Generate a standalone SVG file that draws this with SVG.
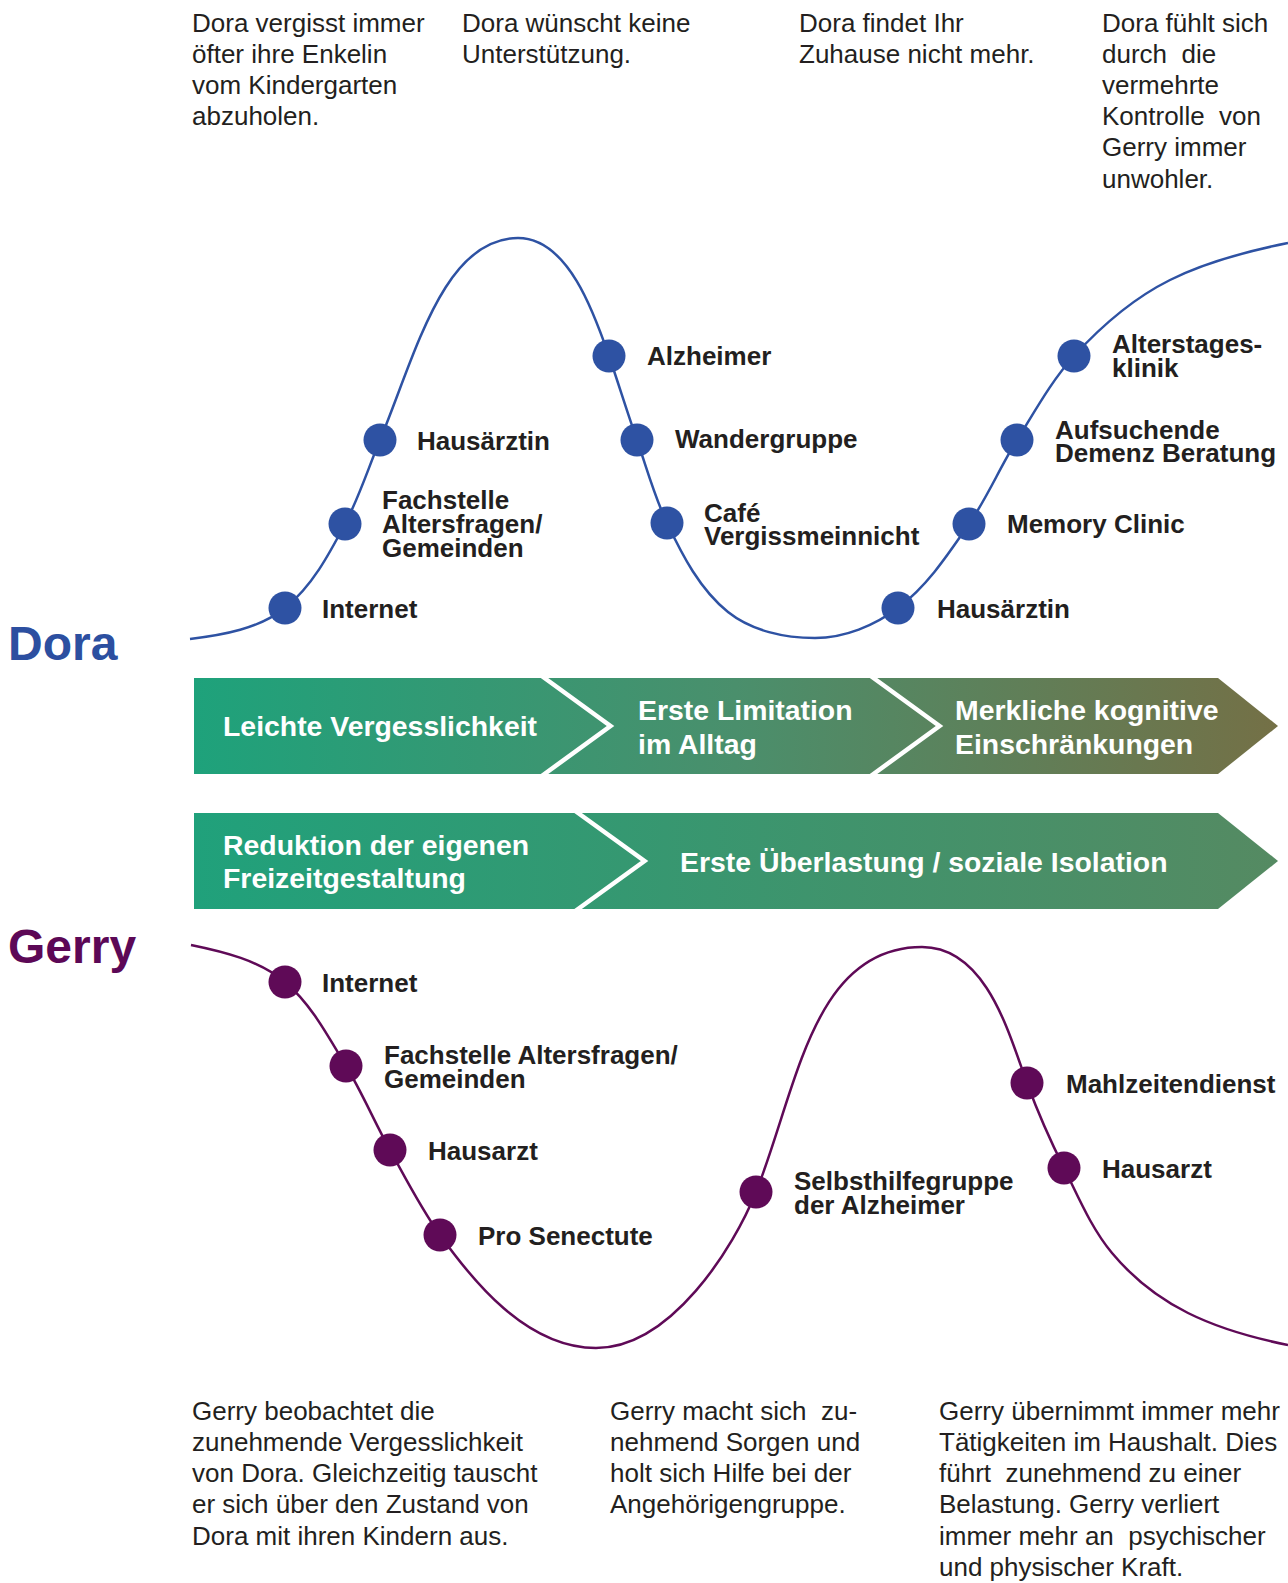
<svg xmlns="http://www.w3.org/2000/svg" width="1288" height="1583" viewBox="0 0 1288 1583">
  <style>
    text { font-family: "Liberation Sans", Arial, Helvetica, sans-serif; }
    .desc { font-size: 26px; fill: #231f20; }
    .lbl { font-size: 26px; font-weight: bold; fill: #231f20; }
    .phase { font-size: 28.4px; font-weight: bold; fill: #ffffff; }
    .name { font-size: 48px; font-weight: bold; }
    .dora-dot { fill: #2e52a3; }
    .gerry-dot { fill: #5f0a57; }
    .curve { fill: none; stroke-width: 2.5; }
    .sep { fill: none; stroke: #ffffff; stroke-width: 4.5; stroke-linejoin: miter; stroke-miterlimit: 10; }
  </style>
  <defs>
    <linearGradient id="gradDora" x1="194" y1="0" x2="1278" y2="0" gradientUnits="userSpaceOnUse">
      <stop offset="0" stop-color="#1ea27b"/>
      <stop offset="0.5" stop-color="#4a8f6c"/>
      <stop offset="1" stop-color="#747046"/>
    </linearGradient>
    <linearGradient id="gradGerry" x1="194" y1="0" x2="1278" y2="0" gradientUnits="userSpaceOnUse">
      <stop offset="0" stop-color="#20a17b"/>
      <stop offset="1" stop-color="#558a62"/>
    </linearGradient>
  </defs>

  <rect width="1288" height="1583" fill="#ffffff"/>

  <!-- situation notes, Dora -->
  <g id="notes-dora" class="desc">
    <text x="192" y="31.5"><tspan x="192">Dora vergisst immer</tspan><tspan x="192" dy="31.2">öfter ihre Enkelin</tspan><tspan x="192" dy="31.2">vom Kindergarten</tspan><tspan x="192" dy="31.2">abzuholen.</tspan></text>
    <text x="462" y="31.5"><tspan x="462">Dora wünscht keine</tspan><tspan x="462" dy="31.2">Unterstützung.</tspan></text>
    <text x="799" y="31.5"><tspan x="799">Dora findet Ihr</tspan><tspan x="799" dy="31.2">Zuhause nicht mehr.</tspan></text>
    <text x="1102" y="31.5" xml:space="preserve"><tspan x="1102">Dora fühlt sich</tspan><tspan x="1102" dy="31.2">durch  die</tspan><tspan x="1102" dy="31.2">vermehrte</tspan><tspan x="1102" dy="31.2">Kontrolle  von</tspan><tspan x="1102" dy="31.2">Gerry immer</tspan><tspan x="1102" dy="31.2">unwohler.</tspan></text>
  </g>

  <!-- person names -->
  <text id="name-dora" class="name" x="8" y="660" fill="#2c4fa0">Dora</text>
  <text id="name-gerry" class="name" x="8" y="963" fill="#5c0856">Gerry</text>

  <!-- journey curves -->
  <g id="connectors">
    <path id="curve-dora" class="curve" stroke="#2e52a3" d="M190,639 C223,635 259.1,628.8 285,608 C311.9,586.5 329,554.4 345,524 C359.1,497.2 368.3,468 380,440 C414.7,356.9 443,238 518,238 C568,238 594.3,313.5 609,356 C618.6,383.9 627.2,412.2 637,440 C646.7,467.8 654.4,496.5 667,523 C682.5,555.5 699.9,589.5 728,612 C751.7,630.9 784.7,638 815,638 C844.4,638 874.5,625.6 898,608 C927.4,586 948.2,554.2 969,524 C987.3,497.5 999.9,467.3 1017,440 C1034.9,411.3 1051.3,381 1074,356 C1101.5,325.8 1133.5,298.2 1170,280 C1206.8,261.6 1247.6,251.1 1288,243"/>
    <path id="curve-gerry" class="curve" stroke="#5f0a57" d="M191,945 C223.7,951.7 259.5,960.4 285,982 C311.4,1004.4 328.1,1036.4 346,1066 C362.4,1093 374.6,1122.4 390,1150 C406,1178.8 420.9,1208.2 440,1235 C472,1279.8 526,1348 596,1348 C671,1348 733.7,1247.7 756,1192 C796.8,1089.9 812,947 922,947 C987,947 1009.6,1036.1 1027,1083 C1037.7,1112 1050.2,1140.4 1064,1168 C1078.5,1197.1 1091.2,1228 1112,1253 C1132.7,1277.8 1159.1,1298.6 1188,1313 C1219.3,1328.6 1253.7,1338.1 1288,1345"/>
  </g>

  <!-- Dora touchpoints -->
  <g id="dora-internet"><circle class="dora-dot" cx="285" cy="608" r="16.5"/><text class="lbl" x="322" y="618">Internet</text></g>
  <g id="dora-fachstelle"><circle class="dora-dot" cx="345" cy="524" r="16.5"/><text class="lbl" x="382" y="509"><tspan x="382">Fachstelle</tspan><tspan x="382" dy="24">Altersfragen/</tspan><tspan x="382" dy="24">Gemeinden</tspan></text></g>
  <g id="dora-hausaerztin"><circle class="dora-dot" cx="380" cy="440" r="16.5"/><text class="lbl" x="417" y="450">Hausärztin</text></g>
  <g id="dora-alzheimer"><circle class="dora-dot" cx="609" cy="356" r="16.5"/><text class="lbl" x="647" y="365">Alzheimer</text></g>
  <g id="dora-wandergruppe"><circle class="dora-dot" cx="637" cy="440" r="16.5"/><text class="lbl" x="675" y="448">Wandergruppe</text></g>
  <g id="dora-cafe"><circle class="dora-dot" cx="667" cy="523" r="16.5"/><text class="lbl" x="704" y="521.5"><tspan x="704">Café</tspan><tspan x="704" dy="23.5">Vergissmeinnicht</tspan></text></g>
  <g id="dora-hausaerztin-2"><circle class="dora-dot" cx="898" cy="608" r="16.5"/><text class="lbl" x="937" y="618">Hausärztin</text></g>
  <g id="dora-memory-clinic"><circle class="dora-dot" cx="969" cy="524" r="16.5"/><text class="lbl" x="1007" y="533">Memory Clinic</text></g>
  <g id="dora-aufsuchende"><circle class="dora-dot" cx="1017" cy="440" r="16.5"/><text class="lbl" x="1055" y="438.5"><tspan x="1055">Aufsuchende</tspan><tspan x="1055" dy="23.2">Demenz Beratung</tspan></text></g>
  <g id="dora-alterstagesklinik"><circle class="dora-dot" cx="1074" cy="356" r="16.5"/><text class="lbl" x="1112" y="353"><tspan x="1112">Alterstages-</tspan><tspan x="1112" dy="23.5">klinik</tspan></text></g>

  <!-- phase band, Dora -->
  <g id="phases-dora">
    <polygon fill="url(#gradDora)" points="194,678 1218,678 1278,726 1218,774 194,774"/>
    <polyline class="sep" points="533.5,670 610.5,726 533.5,782"/>
    <polyline class="sep" points="862.5,670 939.5,726 862.5,782"/>
    <text class="phase" x="223" y="736">Leichte Vergesslichkeit</text>
    <text class="phase" x="638" y="720"><tspan x="638">Erste Limitation</tspan><tspan x="638" dy="34">im Alltag</tspan></text>
    <text class="phase" x="955" y="720"><tspan x="955">Merkliche kognitive</tspan><tspan x="955" dy="34">Einschränkungen</tspan></text>
  </g>

  <!-- phase band, Gerry -->
  <g id="phases-gerry">
    <polygon fill="url(#gradGerry)" points="194,813 1218,813 1278,861 1218,909 194,909"/>
    <polyline class="sep" points="567,805 644.5,861 567,917"/>
    <text class="phase" x="223" y="855"><tspan x="223">Reduktion der eigenen</tspan><tspan x="223" dy="33.3">Freizeitgestaltung</tspan></text>
    <text class="phase" x="680" y="871.7">Erste Überlastung / soziale Isolation</text>
  </g>

  <!-- Gerry touchpoints -->
  <g id="gerry-internet"><circle class="gerry-dot" cx="285" cy="982" r="16.5"/><text class="lbl" x="322" y="992">Internet</text></g>
  <g id="gerry-fachstelle"><circle class="gerry-dot" cx="346" cy="1066" r="16.5"/><text class="lbl" x="384" y="1064"><tspan x="384">Fachstelle Altersfragen/</tspan><tspan x="384" dy="23.5">Gemeinden</tspan></text></g>
  <g id="gerry-hausarzt"><circle class="gerry-dot" cx="390" cy="1150" r="16.5"/><text class="lbl" x="428" y="1160">Hausarzt</text></g>
  <g id="gerry-pro-senectute"><circle class="gerry-dot" cx="440" cy="1235" r="16.5"/><text class="lbl" x="478" y="1245">Pro Senectute</text></g>
  <g id="gerry-selbsthilfegruppe"><circle class="gerry-dot" cx="756" cy="1192" r="16.5"/><text class="lbl" x="794" y="1190"><tspan x="794">Selbsthilfegruppe</tspan><tspan x="794" dy="23.5">der Alzheimer</tspan></text></g>
  <g id="gerry-mahlzeitendienst"><circle class="gerry-dot" cx="1027" cy="1083" r="16.5"/><text class="lbl" x="1066" y="1093">Mahlzeitendienst</text></g>
  <g id="gerry-hausarzt-2"><circle class="gerry-dot" cx="1064" cy="1168" r="16.5"/><text class="lbl" x="1102" y="1177.5">Hausarzt</text></g>

  <!-- situation notes, Gerry -->
  <g id="notes-gerry" class="desc">
    <text x="192" y="1419.5"><tspan x="192">Gerry beobachtet die</tspan><tspan x="192" dy="31.3">zunehmende Vergesslichkeit</tspan><tspan x="192" dy="31.3">von Dora. Gleichzeitig tauscht</tspan><tspan x="192" dy="31.3">er sich über den Zustand von</tspan><tspan x="192" dy="31.3">Dora mit ihren Kindern aus.</tspan></text>
    <text x="610" y="1419.5" xml:space="preserve"><tspan x="610">Gerry macht sich  zu-</tspan><tspan x="610" dy="31.3">nehmend Sorgen und</tspan><tspan x="610" dy="31.3">holt sich Hilfe bei der</tspan><tspan x="610" dy="31.3">Angehörigengruppe.</tspan></text>
    <text x="939" y="1419.5" xml:space="preserve"><tspan x="939">Gerry übernimmt immer mehr</tspan><tspan x="939" dy="31.3">Tätigkeiten im Haushalt. Dies</tspan><tspan x="939" dy="31.3">führt  zunehmend zu einer</tspan><tspan x="939" dy="31.3">Belastung. Gerry verliert</tspan><tspan x="939" dy="31.3">immer mehr an  psychischer</tspan><tspan x="939" dy="31.3">und physischer Kraft.</tspan></text>
  </g>
</svg>
